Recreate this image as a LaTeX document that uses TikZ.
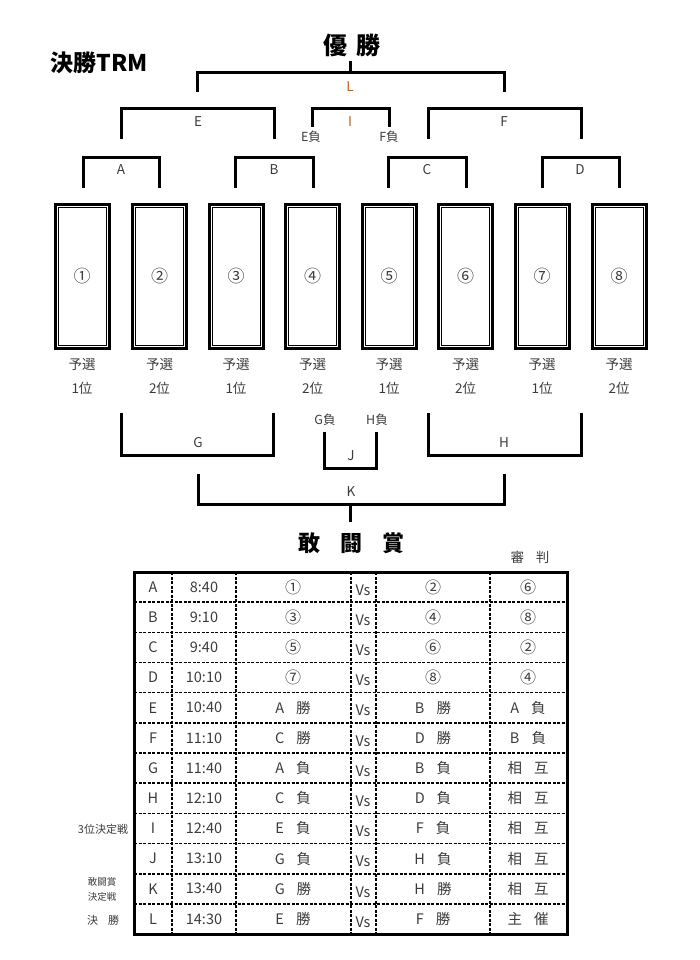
\documentclass[tikz,border=0pt]{standalone}
\usepackage{fontspec}
\setmainfont{Noto Sans CJK JP}
\definecolor{txt}{HTML}{3C3C3C}
\definecolor{org}{HTML}{C0621A}
\newcommand\twoc[2]{#1\hspace{12pt}#2}
\newcommand\cn[1]{{\fontsize{16}{16}\selectfont #1}}
\newcommand\brk[4]{\draw[br] (#1,#3) -- (#1,#4) -- (#2,#4) -- (#2,#3);}
\begin{document}
\begin{tikzpicture}[x=1pt,y=-1pt,
  br/.style={line width=3pt},
  lbl/.style={font=\fontsize{13.5}{13.5}\selectfont, text=txt, inner sep=0pt},
  olbl/.style={font=\fontsize{13.5}{13.5}\selectfont, text=org, inner sep=0pt},
  sml/.style={font=\fontsize{12.5}{12.5}\selectfont, text=txt, inner sep=0pt},
  boxn/.style={draw, line width=3pt, minimum width=54pt, minimum height=144pt, inner sep=0pt, font=\fontsize{17}{17}\selectfont, text=txt},
  big/.style={font=\fontsize{23}{23}\selectfont\bfseries, inner sep=0pt},
  dsh/.style={line width=1.6pt, dash pattern=on 3pt off 1.5pt},
  tt/.style={font=\fontsize{14.5}{14.5}\selectfont, text=txt, inner sep=0pt},
  side/.style={font=\fontsize{11}{11}\selectfont, text=txt, inner sep=0pt}]
\useasboundingbox (0,0) rectangle (700,960);
% titles
\node[big] (ttl) at (99,63) {決勝TRM};
\node[big, font=\fontsize{24}{24}\selectfont\bfseries] (win) at (352,45) {優\hspace{10pt}勝};
\node[big, font=\fontsize{22}{22}\selectfont\bfseries] (fight) at (351,543) {敢\hspace{20pt}闘\hspace{20pt}賞};
\node[lbl] (ref) at (530,557) {審\hspace{12pt}判};
% boxes
\foreach \cx/\c/\r [count=\i] in {82/①/1, 159.5/②/2, 236/③/1, 312.5/④/2, 389/⑤/1, 465.5/⑥/2, 542/⑦/1, 619/⑧/2}{
  \node[boxn] (b\i) at (\cx,276) {\c};
  \draw[line width=0.8pt] ([shift={(4.5,4.5)}]b\i.north west) rectangle ([shift={(-4.5,-4.5)}]b\i.south east);
  \node[lbl] (y\i) at (\cx,365) {予選};
  \node[lbl] (p\i) at (\cx,388) {\r 位};
}
% top brackets
\brk{83}{159}{188}{158}  \node[lbl] (lA) at (121,170) {A};
\brk{235}{313}{188}{158} \node[lbl] (lB) at (274,170) {B};
\brk{388}{466}{188}{158} \node[lbl] (lC) at (427,170) {C};
\brk{542}{619}{188}{158} \node[lbl] (lD) at (580,170) {D};
\brk{121}{274}{139}{109} \node[lbl] (lE) at (198,122) {E};
\brk{312}{389}{127}{109} \node[olbl] (lI) at (350,122) {I};
\node[sml] (eL) at (311,137) {E負};
\node[sml] (fL) at (389,137) {F負};
\brk{428}{581}{139}{109} \node[lbl] (lF) at (504,122) {F};
\brk{197}{504}{92}{73}   \node[olbl] (lL) at (350,87) {L};
\draw[br] (350,61) -- (350,73);
% bottom brackets
\brk{121}{273}{413}{455} \node[lbl] (lG) at (198,443) {G};
\brk{428}{581}{413}{455} \node[lbl] (lH) at (504,443) {H};
\brk{324}{376}{432}{468} \node[lbl] (lJ) at (351,456) {J};
\node[sml] (gL) at (325,420) {G負};
\node[sml] (hL) at (377,420) {H負};
\brk{198}{504}{474}{504} \node[lbl] (lK) at (351,492) {K};
\draw[br] (350,504) -- (350,522);
% table grid
\foreach \i in {1,...,11}{
  \pgfmathsetmacro\yy{572+30.17*\i}
  \draw[dsh] (134,\yy) -- (567,\yy);
}
\foreach \xx in {172,236,351,376,490}{
  \draw[dsh] (\xx,572) -- (\xx,934);
}
\draw[line width=3pt] (134,572) rectangle (567,934);
% table text
\foreach \r/\t/\a/\b/\c [count=\i] in {
  A/8:40/\cn{①}/\cn{②}/\cn{⑥}, B/9:10/\cn{③}/\cn{④}/\cn{⑧}, C/9:40/\cn{⑤}/\cn{⑥}/\cn{②}, D/10:10/\cn{⑦}/\cn{⑧}/\cn{④},
  E/10:40/\twoc{A}{勝}/\twoc{B}{勝}/\twoc{A}{負},
  F/11:10/\twoc{C}{勝}/\twoc{D}{勝}/\twoc{B}{負},
  G/11:40/\twoc{A}{負}/\twoc{B}{負}/\twoc{相}{互},
  H/12:10/\twoc{C}{負}/\twoc{D}{負}/\twoc{相}{互},
  I/12:40/\twoc{E}{負}/\twoc{F}{負}/\twoc{相}{互},
  J/13:10/\twoc{G}{負}/\twoc{H}{負}/\twoc{相}{互},
  K/13:40/\twoc{G}{勝}/\twoc{H}{勝}/\twoc{相}{互},
  L/14:30/\twoc{E}{勝}/\twoc{F}{勝}/\twoc{主}{催}}{
  \pgfmathsetmacro\yy{572+30.17*(\i-0.5)}
  \node[tt] (r\i) at (153,\yy) {\r};
  \node[tt] (t\i) at (204,\yy) {\t};
  \node[tt] (a\i) at (293,\yy) {\a};
  \node[tt] (v\i) at (363,\yy+3) {Vs};
  \node[tt] (b\i) at (433,\yy) {\b};
  \node[tt] (c\i) at (528,\yy) {\c};
}
% side labels
\node[side] (s3) at (103,829) {3位決定戦};
\node[side, font=\fontsize{9.5}{9.5}\selectfont] (sk1) at (102,882) {敢闘賞};
\node[side, font=\fontsize{9.5}{9.5}\selectfont] (sk2) at (102,897) {決定戦};
\node[side] (sl) at (103,920) {決\hspace{10pt}勝};
\end{tikzpicture}
\end{document}
